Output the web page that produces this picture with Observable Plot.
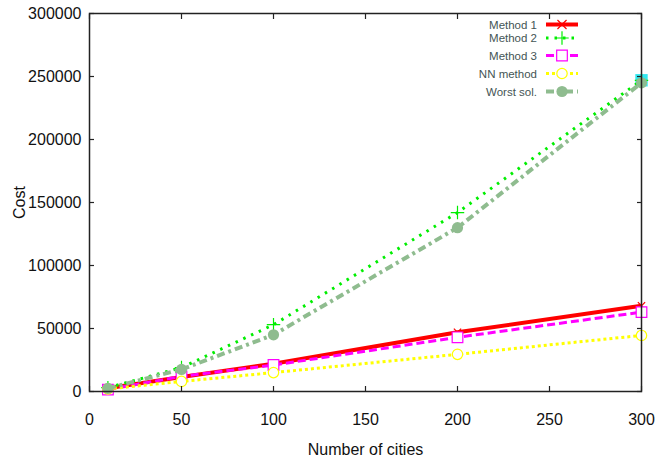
<!DOCTYPE html>
<html>
<head>
<meta charset="utf-8">
<script src="https://cdn.jsdelivr.net/npm/d3@7"></script>
<script src="https://cdn.jsdelivr.net/npm/@observablehq/plot@0.6"></script>
<style>
  html, body { margin: 0; padding: 0; background: #fff; }
  #chart svg { display: block; }
</style>
</head>
<body>
<div id="chart"></div>
<script>
const cities = [10, 50, 100, 200, 300];
const method1 = [2500, 11500, 22000, 47000, 68000];
const method2 = [3000, 19000, 53000, 142000, 247000];
const method3 = [1500, 12000, 21000, 43000, 63000];
const nnMethod = [2000, 8000, 15000, 29500, 44500];
const worstSol = [2500, 17500, 45000, 130000, 245000];
const extraX = [300];
const extraY = [247000];
const seriesNames = ["Method 1", "Method 2", "Method 3", "NN method", "Worst sol."];
const xTicks = [0, 50, 100, 150, 200, 250, 300];
const yTicks = [0, 50000, 100000, 150000, 200000, 250000, 300000];

const values = [method1, method2, method3, nnMethod, worstSol];
const styles = [
  {stroke: "#ff0000", width: 4, dash: null, symbol: "times", fill: "none", r: 3.4, sw: 1.2, lr: 4.2},
  {stroke: "#00ee00", width: 3, dash: "2.5,6", symbol: "plus", fill: "none", r: 4.4, sw: 1.2, lr: 4.4},
  {stroke: "#ff00ff", width: 3, dash: "8,4", symbol: "square", fill: "white", r: 6, sw: 1.2, lr: 6},
  {stroke: "#ffff00", width: 3, dash: "3,3", symbol: "circle", fill: "white", r: 5.2, sw: 1.2, lr: 5.2},
  {stroke: "#8fbc8f", width: 4, dash: "8,4,3,4", symbol: "circle", fill: "#8fbc8f", r: 5.6, sw: 1, lr: 5.6}
];

const rows = [];
values.forEach((vals, i) => cities.forEach((c, j) => rows.push({series: seriesNames[i], idx: i, x: c, y: vals[j]})));
const extra = extraX.map((x, i) => ({x, y: extraY[i]}));

const marks = [];
marks.push(Plot.dot(extra, {x: "x", y: "y", symbol: "square", r: 7, fill: "#33e8f0", stroke: "none"}));
[0, 1, 2, 3, 4].forEach(i => {
  const s = styles[i];
  const d = rows.filter(r => r.idx === i);
  marks.push(Plot.line(d, {x: "x", y: "y", stroke: s.stroke, strokeWidth: s.width, strokeDasharray: s.dash, strokeLinecap: "butt"}));
  marks.push(Plot.dot(d, {x: "x", y: "y", symbol: s.symbol, r: s.r, stroke: s.symbol === "circle" && s.fill !== "white" ? "none" : s.stroke, fill: s.fill === "none" ? null : s.fill, strokeWidth: s.sw}));
});

marks.push(Plot.frame({stroke: "#222", strokeWidth: 1.5}));
marks.push(Plot.axisX({ticks: xTicks, tickSize: 0, tickPadding: 22, fontSize: 16, label: "Number of cities", labelAnchor: "center", labelArrow: "none", labelOffset: 63}));
marks.push(Plot.axisX({ticks: xTicks, tickSize: -5, tickFormat: () => "", label: null, stroke: "#222", strokeWidth: 1.2}));
marks.push(Plot.axisX({ticks: xTicks, anchor: "top", tickSize: -5, tickFormat: () => "", label: null, stroke: "#222", strokeWidth: 1.2}));
marks.push(Plot.axisY({ticks: yTicks, tickSize: 0, tickPadding: 8, fontSize: 16, tickFormat: d => String(d), label: "Cost", labelAnchor: "center", labelArrow: "none", labelOffset: 76}));
marks.push(Plot.axisY({ticks: yTicks, tickSize: -5, tickFormat: () => "", label: null, stroke: "#222", strokeWidth: 1.2}));
marks.push(Plot.axisY({ticks: yTicks, anchor: "right", tickSize: -5, tickFormat: () => "", label: null, stroke: "#222", strokeWidth: 1.2}));

const plot = Plot.plot({
  width: 667,
  height: 461,
  marginLeft: 89,
  marginRight: 26,
  marginTop: 13,
  marginBottom: 70,
  style: {fontFamily: "'Liberation Sans', Arial, sans-serif", fontSize: "16px", color: "#111", background: "#fff"},
  x: {domain: [0, 300]},
  y: {domain: [0, 300000]},
  marks
});
document.getElementById("chart").appendChild(plot);

// legend (inside plot, top right)
const svg = d3.select(plot);
const legendRowsY = [24.5, 38, 55.5, 73.5, 91.5];
const lg = svg.append("g").attr("font-family", "'Liberation Sans', Arial, sans-serif").attr("font-size", 11.5);
seriesNames.forEach((name, i) => {
  const s = styles[i];
  const yy = legendRowsY[i];
  lg.append("text").attr("x", 537).attr("y", yy).attr("dy", "0.35em").attr("text-anchor", "end").attr("fill", "#445555").text(name);
  lg.append("line").attr("x1", 546).attr("x2", 578).attr("y1", yy).attr("y2", yy)
    .attr("stroke", s.stroke).attr("stroke-width", s.width).attr("stroke-dasharray", s.dash);
  const sym = d3.symbol().type(
    s.symbol === "times" ? d3.symbolTimes : s.symbol === "plus" ? d3.symbolPlus : s.symbol === "square" ? d3.symbolSquare : d3.symbolCircle
  ).size(s.lr * s.lr * Math.PI);
  lg.append("path").attr("d", sym()).attr("transform", `translate(562,${yy})`)
    .attr("fill", s.fill === "none" ? "none" : s.fill)
    .attr("stroke", s.symbol === "circle" && s.fill !== "white" ? "none" : s.stroke)
    .attr("stroke-width", s.sw);
});
</script>
</body>
</html>
